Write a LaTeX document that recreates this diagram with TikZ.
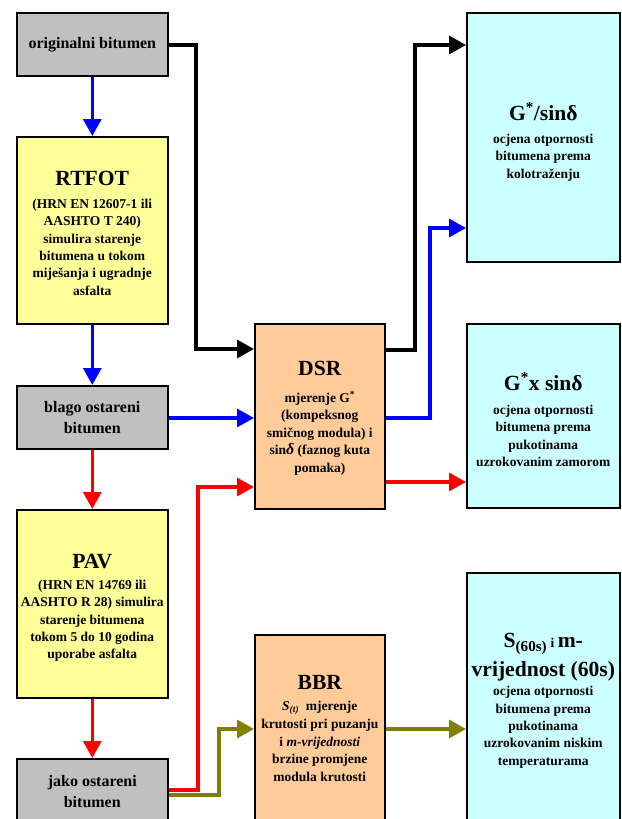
\documentclass[tikz,border=0pt]{standalone}
\usepackage{fontspec}
\setmainfont{Liberation Serif}
\usetikzlibrary{arrows.meta}
\definecolor{boxgray}{HTML}{C0C0C0}
\definecolor{boxyellow}{HTML}{FFFF99}
\definecolor{boxorange}{HTML}{FFCC99}
\definecolor{boxcyan}{HTML}{CCFFFF}
\definecolor{olivec}{HTML}{808000}
\newcommand{\ttl}{\fontsize{21.6}{24}\selectfont}
\begin{document}
\begin{tikzpicture}[x=1pt,y=-1pt,
  box/.style={draw=black, line width=1.6pt, inner sep=0pt, anchor=north west, align=center,
    font=\bfseries\fontsize{13.5}{17.4}\selectfont},
  txt/.style={inner sep=0pt, align=center, font=\bfseries\fontsize{13.5}{17.4}\selectfont},
  graybox/.style={box, fill=boxgray, minimum width=151pt, font=\bfseries\fontsize{16}{20.7}\selectfont},
  yellowbox/.style={box, fill=boxyellow, minimum width=151pt},
  orangebox/.style={box, fill=boxorange, minimum width=130pt},
  cyanbox/.style={box, fill=boxcyan, minimum width=153pt},
  conn/.style={line width=3.3pt, -{Triangle[length=17pt,width=18pt]}},
]
\useasboundingbox (0,0) rectangle (621,819);
\clip (0,0) rectangle (621,819);

% left column
\node[graybox, minimum height=63pt] (orig) at (16,12) {originalni bitumen};
\node[yellowbox, minimum height=187pt] (rtfot) at (16,136) {};
\node[txt, yshift=-3pt] (rtfott) at (rtfot.center) {{\ttl RTFOT}\\[5.6pt]
  (HRN EN 12607-1 ili\\ AASHTO T 240)\\ simulira starenje\\ bitumena u tokom\\ miješanja i ugradnje\\ asfalta};
\node[graybox, minimum height=63pt] (blago) at (16,385) {blago ostareni\\ bitumen};
\node[yellowbox, minimum height=188pt] (pav) at (16,509) {};
\node[txt, yshift=-4pt] (pavt) at (pav.center) {{\ttl PAV}\\[3.6pt]
  (HRN EN 14769 ili\\ AASHTO R 28) simulira\\ starenje bitumena\\ tokom 5 do 10 godina\\ uporabe asfalta};
\node[graybox, minimum height=66pt] (jako) at (16,758) {jako ostareni\\ bitumen};

% middle column
\node[orangebox, minimum height=185pt] (dsr) at (254,323) {};
\node[txt, yshift=-1.5pt] (dsrt) at (dsr.center) {{\ttl DSR}\\[10pt]
  mjerenje G\textsuperscript{*}\\ (kompeksnog\\ smičnog modula) i\\ sin{\itshape\fontsize{16}{17}\selectfont δ} (faznog kuta\\ pomaka)};
\node[orangebox, minimum height=188pt] (bbr) at (254,634) {};
\node[txt, font=\bfseries\fontsize{13.5}{17.8}\selectfont] (bbrt) at (bbr.center) {{\ttl BBR}\\[3pt]
  {\itshape S}\textsubscript{\itshape (t)}\ \ mjerenje\\ krutosti pri puzanju\\ i {\itshape m-vrijednosti}\\ brzine promjene\\ modula krutosti};

% right column
\node[cyanbox, minimum height=249pt] (gsin) at (466,12) {};
\node[txt, yshift=-4.5pt] (gsint) at (gsin.center) {{\ttl G\textsuperscript{*}/sinδ}\\[6pt]
  ocjena otpornosti\\ bitumena prema\\ kolotraženju};
\node[cyanbox, minimum height=184pt] (gx) at (466,323) {};
\node[txt, yshift=-4pt] (gxt) at (gx.center) {{\ttl G\textsuperscript{*}x sinδ}\\[7pt]
  ocjena otpornosti\\ bitumena prema\\ pukotinama\\ uzrokovanim zamorom};
\node[cyanbox, minimum height=250pt] (s60) at (466,572) {};
\node[txt, yshift=-3pt] (s60t) at (s60.center) {{\ttl S\textsubscript{(60s)}{\fontsize{13.5}{15}\selectfont\ i }m-}\\[6pt]
  {\ttl vrijednost (60s)}\\[2pt] ocjena otpornosti\\ bitumena prema\\ pukotinama\\ uzrokovanim niskim\\ temperaturama};

% connectors
\draw[conn, blue] (orig.south) -- (rtfot.north);
\draw[conn, blue] (rtfot.south) -- (blago.north);
\draw[conn, red] (blago.south) -- (pav.north);
\draw[conn, red] (pav.south) -- (jako.north);
\draw[conn, black] (orig.east |- 0,45) -| (196,349) -- (dsr.west |- 0,349);
\draw[conn, blue] (blago.east |- 0,418) -- (dsr.west |- 0,418);
\draw[conn, red] (jako.east |- 0,790) -| (198,487) -- (dsr.west |- 0,487);
\draw[conn, olivec] (jako.east |- 0,795) -| (219,729) -- (bbr.west |- 0,729);
\draw[conn, black] (dsr.east |- 0,350) -| (415,45) -- (gsin.west |- 0,45);
\draw[conn, blue] (dsr.east |- 0,418) -| (430,228) -- (gsin.west |- 0,228);
\draw[conn, red] (dsr.east |- 0,482) -- (gx.west |- 0,482);
\draw[conn, olivec] (bbr.east |- 0,729) -- (s60.west |- 0,729);
\end{tikzpicture}
\end{document}
